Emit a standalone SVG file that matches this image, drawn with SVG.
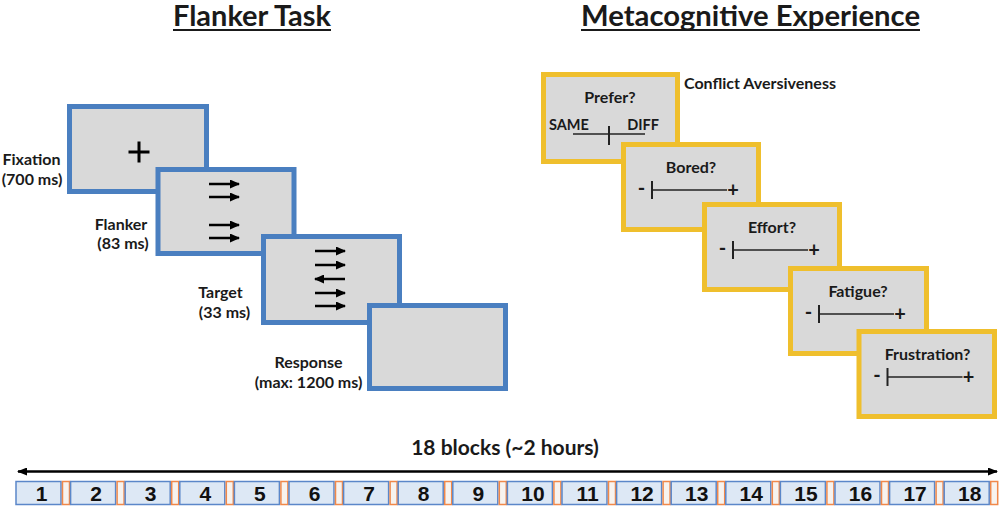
<svg xmlns="http://www.w3.org/2000/svg" width="1000" height="507" viewBox="0 0 1000 507">
<style>
text{font-family:Lato,"Liberation Sans",sans-serif;font-weight:bold;fill:#1a1a1a}
.lbl{font-size:16px;text-anchor:middle}
.ttl{font-size:28px}
.q{font-size:16px;text-anchor:middle}
.pm{font-size:20px;text-anchor:middle}
.bscr{fill:#d9d9d9;stroke:#4a7fc0;stroke-width:5}
.yscr{fill:#d9d9d9;stroke:#efbf2d;stroke-width:5}
.arr{stroke:#000;stroke-width:2.5;fill:none;marker-end:url(#ah)}
.scale{stroke:#222;stroke-width:1.5;fill:none}
.tick{stroke:#222;stroke-width:2;fill:none}
.blk{fill:#dde8f5;stroke:#5b87c9;stroke-width:1.5}
.gap{fill:#f7f3ef;stroke:#f0884a;stroke-width:1.5}
.num{font-family:"Liberation Sans",Arial,sans-serif;font-size:21px;text-anchor:middle;fill:#111}
</style>
<defs>
<marker id="ah" markerUnits="userSpaceOnUse" markerWidth="10" markerHeight="9" refX="9" refY="4.5" orient="auto"><path d="M0,0 L10,4.5 L0,9 z" fill="#000"/></marker>
<marker id="th" markerUnits="userSpaceOnUse" markerWidth="10" markerHeight="8" refX="9" refY="4" orient="auto-start-reverse"><path d="M0,0 L10,4 L0,8 z" fill="#000"/></marker>
</defs>

<g id="title-flanker">
<text class="ttl" x="173" y="26" textLength="158" lengthAdjust="spacingAndGlyphs">Flanker Task</text>
<line x1="173" y1="30" x2="331" y2="30" stroke="#1a1a1a" stroke-width="2"/>
</g>
<g id="title-meta">
<text class="ttl" x="581" y="26" textLength="339" lengthAdjust="spacingAndGlyphs">Metacognitive Experience</text>
<line x1="581" y1="30" x2="920" y2="30" stroke="#1a1a1a" stroke-width="2"/>
</g>

<g id="fixation">
<rect class="bscr" x="69.5" y="106.5" width="137" height="85"/>
<path d="M139,141.5 V162.5 M128.5,152 H149.5" stroke="#000" stroke-width="3"/>
<text class="lbl" x="31.5" y="165">Fixation</text>
<text class="lbl" x="32" y="184.5">(700 ms)</text>
</g>
<g id="flanker">
<rect class="bscr" x="158" y="169.5" width="136" height="84"/>
<path class="arr" d="M209,184 H239"/>
<path class="arr" d="M209,197 H239"/>
<path class="arr" d="M209,225 H239"/>
<path class="arr" d="M209,238 H239"/>
<text class="lbl" x="121" y="229.5">Flanker</text>
<text class="lbl" x="123" y="249">(83 ms)</text>
</g>
<g id="target">
<rect class="bscr" x="263.5" y="236.5" width="136" height="86"/>
<path class="arr" d="M315,251 H345"/>
<path class="arr" d="M315,265 H345"/>
<path class="arr" d="M345,279 H315"/>
<path class="arr" d="M315,293 H345"/>
<path class="arr" d="M315,306 H345"/>
<text class="lbl" x="220.5" y="298">Target</text>
<text class="lbl" x="224.5" y="318">(33 ms)</text>
</g>
<g id="response">
<rect class="bscr" x="369.5" y="305.5" width="136" height="83"/>
<text class="lbl" x="308.5" y="367.5">Response</text>
<text class="lbl" x="308.5" y="387.5">(max: 1200 ms)</text>
</g>

<g id="prefer" transform="translate(541,72)">
<rect class="yscr" x="2.5" y="2.5" width="134" height="87"/>
<text class="q" x="69" y="30.5">Prefer?</text>
<text x="8" y="58" font-size="14.5">SAME</text>
<text x="118" y="58" font-size="14.5" text-anchor="end">DIFF</text>
<line class="scale" x1="32" y1="62" x2="104" y2="62"/>
<line class="tick" x1="68" y1="54" x2="68" y2="73"/>
</g>
<text id="conflict-label" x="684" y="88.5" font-size="16">Conflict Aversiveness</text>

<g id="bored" transform="translate(621,142)">
<rect class="yscr" x="2.5" y="2.5" width="135" height="85"/>
<text class="q" x="70" y="31">Bored?</text>
<text class="pm" x="20.5" y="53">-</text>
<line class="tick" x1="31" y1="39" x2="31" y2="57"/>
<line class="scale" x1="31" y1="48" x2="106" y2="48"/>
<text class="pm" x="112" y="55">+</text>
</g>
<g id="effort" transform="translate(702,202)">
<rect class="yscr" x="2.5" y="2.5" width="135" height="85"/>
<text class="q" x="70" y="31">Effort?</text>
<text class="pm" x="20.5" y="53">-</text>
<line class="tick" x1="31" y1="39" x2="31" y2="57"/>
<line class="scale" x1="31" y1="48" x2="106" y2="48"/>
<text class="pm" x="112" y="55">+</text>
</g>
<g id="fatigue" transform="translate(788,266)">
<rect class="yscr" x="2.5" y="2.5" width="136" height="85"/>
<text class="q" x="70" y="31">Fatigue?</text>
<text class="pm" x="20.5" y="53">-</text>
<line class="tick" x1="31" y1="39" x2="31" y2="57"/>
<line class="scale" x1="31" y1="48" x2="106" y2="48"/>
<text class="pm" x="112" y="55">+</text>
</g>
<g id="frustration" transform="translate(856.5,329)">
<rect class="yscr" x="2.5" y="2.5" width="135.5" height="85"/>
<text class="q" x="71" y="31">Frustration?</text>
<text class="pm" x="20.5" y="53">-</text>
<line class="tick" x1="31" y1="39" x2="31" y2="57"/>
<line class="scale" x1="31" y1="48" x2="106" y2="48"/>
<text class="pm" x="112" y="55">+</text>
</g>

<g id="connectors">
<line x1="18" y1="471.5" x2="997" y2="471.5" stroke="#000" stroke-width="2.5" marker-start="url(#th)" marker-end="url(#th)"/>
</g>
<text id="timeline-label" x="505" y="455" font-size="21" text-anchor="middle">18 blocks (~2 hours)</text>

<g id="blocks">
<rect class="blk" x="16" y="481.5" width="45" height="23"/><rect class="gap" x="62.5" y="481.5" width="7" height="23"/><text class="num" x="41.5" y="501">1</text>
<rect class="blk" x="70.6" y="481.5" width="45" height="23"/><rect class="gap" x="117.1" y="481.5" width="7" height="23"/><text class="num" x="96.1" y="501">2</text>
<rect class="blk" x="125.2" y="481.5" width="45" height="23"/><rect class="gap" x="171.7" y="481.5" width="7" height="23"/><text class="num" x="150.7" y="501">3</text>
<rect class="blk" x="179.8" y="481.5" width="45" height="23"/><rect class="gap" x="226.3" y="481.5" width="7" height="23"/><text class="num" x="205.3" y="501">4</text>
<rect class="blk" x="234.4" y="481.5" width="45" height="23"/><rect class="gap" x="280.9" y="481.5" width="7" height="23"/><text class="num" x="259.9" y="501">5</text>
<rect class="blk" x="289" y="481.5" width="45" height="23"/><rect class="gap" x="335.5" y="481.5" width="7" height="23"/><text class="num" x="314.5" y="501">6</text>
<rect class="blk" x="343.6" y="481.5" width="45" height="23"/><rect class="gap" x="390.1" y="481.5" width="7" height="23"/><text class="num" x="369.1" y="501">7</text>
<rect class="blk" x="398.2" y="481.5" width="45" height="23"/><rect class="gap" x="444.7" y="481.5" width="7" height="23"/><text class="num" x="423.7" y="501">8</text>
<rect class="blk" x="452.8" y="481.5" width="45" height="23"/><rect class="gap" x="499.3" y="481.5" width="7" height="23"/><text class="num" x="478.3" y="501">9</text>
<rect class="blk" x="507.4" y="481.5" width="45" height="23"/><rect class="gap" x="553.9" y="481.5" width="7" height="23"/><text class="num" x="532.9" y="501">10</text>
<rect class="blk" x="562" y="481.5" width="45" height="23"/><rect class="gap" x="608.5" y="481.5" width="7" height="23"/><text class="num" x="587.5" y="501">11</text>
<rect class="blk" x="616.6" y="481.5" width="45" height="23"/><rect class="gap" x="663.1" y="481.5" width="7" height="23"/><text class="num" x="642.1" y="501">12</text>
<rect class="blk" x="671.2" y="481.5" width="45" height="23"/><rect class="gap" x="717.7" y="481.5" width="7" height="23"/><text class="num" x="696.7" y="501">13</text>
<rect class="blk" x="725.8" y="481.5" width="45" height="23"/><rect class="gap" x="772.3" y="481.5" width="7" height="23"/><text class="num" x="751.3" y="501">14</text>
<rect class="blk" x="780.4" y="481.5" width="45" height="23"/><rect class="gap" x="826.9" y="481.5" width="7" height="23"/><text class="num" x="805.9" y="501">15</text>
<rect class="blk" x="835" y="481.5" width="45" height="23"/><rect class="gap" x="881.5" y="481.5" width="7" height="23"/><text class="num" x="860.5" y="501">16</text>
<rect class="blk" x="889.6" y="481.5" width="45" height="23"/><rect class="gap" x="936.1" y="481.5" width="7" height="23"/><text class="num" x="915.1" y="501">17</text>
<rect class="blk" x="944.2" y="481.5" width="45" height="23"/><rect class="gap" x="990.7" y="481.5" width="7" height="23"/><text class="num" x="969.7" y="501">18</text>
</g>
</svg>
